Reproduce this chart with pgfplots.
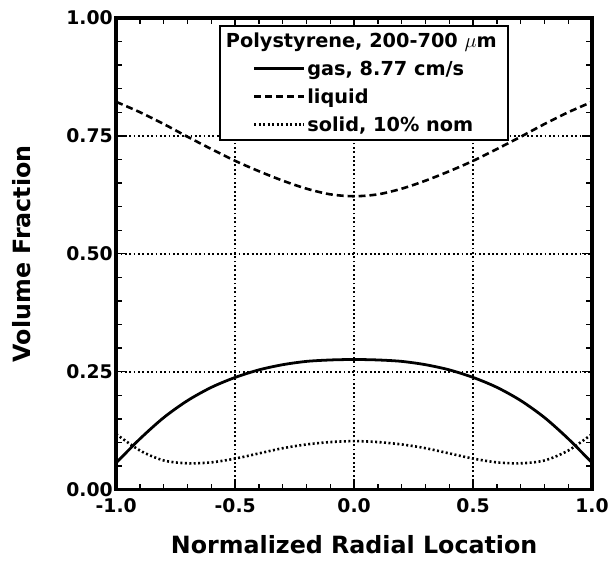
\documentclass[border=0pt]{standalone}
\usepackage{fontspec}
\setmainfont{DejaVu Sans}
\usepackage{pgfplots}
\pgfplotsset{compat=1.18}
\begin{document}
\begin{tikzpicture}
\begin{axis}[
 scale only axis, width=479bp, height=475bp,
 xmin=-1, xmax=1, ymin=0, ymax=1,
 xtick={-1,-0.5,0,0.5,1}, ytick={0,0.25,0.5,0.75,1},
 xticklabels={-1.0,-0.5,0.0,0.5,1.0}, yticklabels={0.00,0.25,0.50,0.75,1.00},
 minor x tick num=4, minor y tick num=4,
 tickwidth=10bp, subtickwidth=6bp,
 xtick style={black, line width=1.4pt},
 ytick style={black, line width=1.4pt},
 grid=major, major grid style={black, line width=2.4bp, dash pattern=on 1.8bp off 2.6bp},
 axis line style={line width=3.5bp},
 every outer x axis line/.append style={line width=3.5bp},
 every outer y axis line/.append style={line width=3.5bp},
 tick label style={font=\fontsize{19}{22}\selectfont\bfseries},
 xticklabel style={yshift=-5bp},
 /pgf/number format/assume math mode=true,
 label style={font=\fontsize{24}{28}\selectfont\bfseries},
 xlabel style={at={(axis description cs:0.5,-0.116)}, anchor=center},
 ylabel style={at={(axis description cs:-0.198,0.5)}, anchor=center},
 xlabel={Normalized Radial Location}, ylabel={Volume Fraction},
 legend style={at={(0.5,0.985)}, anchor=north, xshift=10bp, draw=black, line width=1.8bp,
   font=\fontsize{19.5}{22}\selectfont\bfseries, cells={anchor=west},
   row sep=8bp, inner xsep=33bp, inner ysep=5bp},
 legend image code/.code={\draw[#1] (0bp,0bp) -- (50bp,0bp);},
]
\pgfplotsinvokeforeach{-0.9,-0.8,-0.7,-0.6,-0.4,-0.3,-0.2,-0.1,0.1,0.2,0.3,0.4,0.6,0.7,0.8,0.9}{
 \draw[black, line width=1.4pt] (axis cs:#1,0) -- ([yshift=6bp]axis cs:#1,0);
 \draw[black, line width=1.4pt] (axis cs:#1,1) -- ([yshift=-6bp]axis cs:#1,1);
}
\pgfplotsinvokeforeach{-0.5,0,0.5}{
 \draw[black, line width=1.4pt] (axis cs:#1,0) -- ([yshift=10bp]axis cs:#1,0);
 \draw[black, line width=1.4pt] (axis cs:#1,1) -- ([yshift=-10bp]axis cs:#1,1);
}
\pgfplotsinvokeforeach{0.05,0.1,0.15,0.2,0.3,0.35,0.4,0.45,0.55,0.6,0.65,0.7,0.8,0.85,0.9,0.95}{
 \draw[black, line width=1.4pt] (axis cs:-1,#1) -- ([xshift=6bp]axis cs:-1,#1);
 \draw[black, line width=1.4pt] (axis cs:1,#1) -- ([xshift=-6bp]axis cs:1,#1);
}
\pgfplotsinvokeforeach{0.25,0.5,0.75}{
 \draw[black, line width=1.4pt] (axis cs:-1,#1) -- ([xshift=10bp]axis cs:-1,#1);
 \draw[black, line width=1.4pt] (axis cs:1,#1) -- ([xshift=-10bp]axis cs:1,#1);
}
\addlegendimage{empty legend}
\addlegendentry{\hspace*{-82bp}\rule[-9bp]{0pt}{5bp}Polystyrene, 200-700 $\mu$m\hspace*{-25bp}}
\addplot[black, line width=2.8bp, smooth] coordinates {
(-1.0,0.057) (-0.9,0.108) (-0.8,0.153) (-0.7,0.189) (-0.6,0.217) (-0.5,0.238)
(-0.4,0.254) (-0.3,0.265) (-0.2,0.272) (-0.1,0.275) (0.0,0.276)
(0.1,0.275) (0.2,0.272) (0.3,0.265) (0.4,0.254) (0.5,0.238)
(0.6,0.217) (0.7,0.189) (0.8,0.153) (0.9,0.108) (1.0,0.057)};
\addlegendentry{gas, 8.77 cm/s}
\addplot[black, line width=2.6bp, dash pattern=on 7bp off 4bp, smooth] coordinates {
(-1.0,0.822) (-0.9,0.800) (-0.8,0.775) (-0.7,0.748) (-0.6,0.722) (-0.5,0.697)
(-0.4,0.675) (-0.3,0.655) (-0.2,0.638) (-0.1,0.626) (0.0,0.622)
(0.1,0.626) (0.2,0.638) (0.3,0.655) (0.4,0.675) (0.5,0.697)
(0.6,0.722) (0.7,0.748) (0.8,0.775) (0.9,0.800) (1.0,0.822)};
\addlegendentry{liquid}
\addplot[black, line width=2.6bp, dash pattern=on 2bp off 2.5bp, smooth] coordinates {
(-1.0,0.118) (-0.9,0.083) (-0.8,0.062) (-0.7,0.056) (-0.6,0.058) (-0.5,0.066)
(-0.4,0.077) (-0.3,0.088) (-0.2,0.096) (-0.1,0.101) (0.0,0.103)
(0.1,0.101) (0.2,0.096) (0.3,0.088) (0.4,0.077) (0.5,0.066)
(0.6,0.058) (0.7,0.056) (0.8,0.062) (0.9,0.083) (1.0,0.118)};
\addlegendentry{solid, 10\% nom}
\end{axis}
\path ([yshift=18bp]current axis.north) ([yshift=-73bp]current axis.south)
      ([xshift=-117bp]current axis.west) ([xshift=16bp]current axis.east);
\end{tikzpicture}
\end{document}
